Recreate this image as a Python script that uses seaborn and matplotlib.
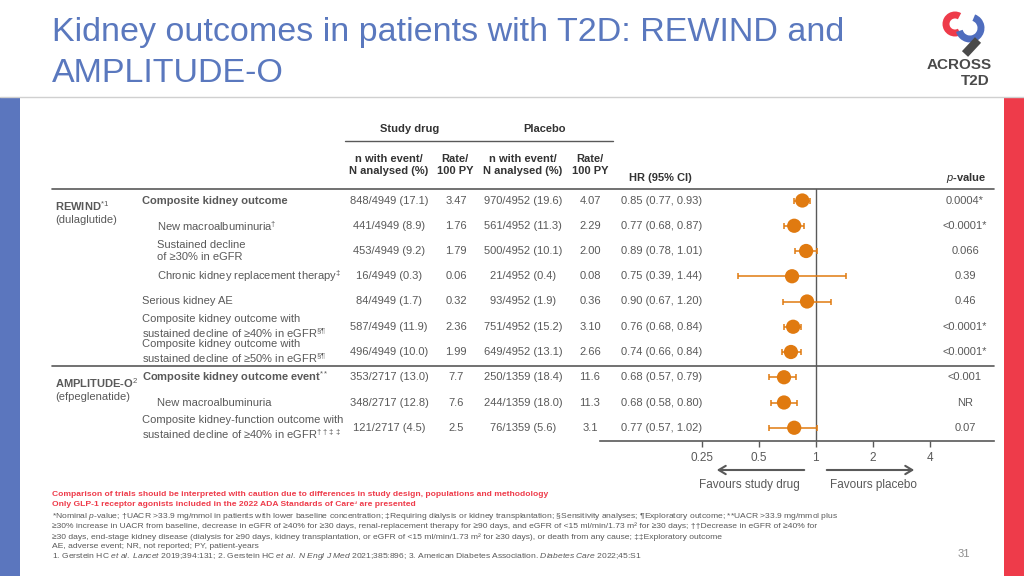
import numpy as np
import pandas as pd
import seaborn as sns
import matplotlib.pyplot as plt
from matplotlib.patches import Rectangle, Arc, FancyArrowPatch
from matplotlib.lines import Line2D

# ---- data ----
outcomes = [
    "Composite kidney outcome",
    "New macroalbuminuria$^{\\dagger}$",
    "Sustained decline\nof ≥30% in eGFR",
    "Chronic kidney replacement therapy$^{\\ddagger}$",
    "Serious kidney AE",
    "Composite kidney outcome with\nsustained decline of ≥40% in eGFR$^{\\S\\P}$",
    "Composite kidney outcome with\nsustained decline of ≥50% in eGFR$^{\\S\\P}$",
    "Composite kidney outcome event$^{**}$",
    "New macroalbuminuria",
    "Composite kidney-function outcome with\nsustained decline of ≥40% in eGFR$^{\\dagger\\dagger\\ddagger\\ddagger}$",
]
study_n = ["848/4949 (17.1)", "441/4949 (8.9)", "453/4949 (9.2)", "16/4949 (0.3)",
           "84/4949 (1.7)", "587/4949 (11.9)", "496/4949 (10.0)",
           "353/2717 (13.0)", "348/2717 (12.8)", "121/2717 (4.5)"]
study_rate = ["3.47", "1.76", "1.79", "0.06", "0.32", "2.36", "1.99", "7.7", "7.6", "2.5"]
placebo_n = ["970/4952 (19.6)", "561/4952 (11.3)", "500/4952 (10.1)", "21/4952 (0.4)",
             "93/4952 (1.9)", "751/4952 (15.2)", "649/4952 (13.1)",
             "250/1359 (18.4)", "244/1359 (18.0)", "76/1359 (5.6)"]
placebo_rate = ["4.07", "2.29", "2.00", "0.08", "0.36", "3.10", "2.66", "11.6", "11.3", "3.1"]
hr = [0.85, 0.77, 0.89, 0.75, 0.90, 0.76, 0.74, 0.68, 0.68, 0.77]
hr_lo = [0.77, 0.68, 0.78, 0.39, 0.67, 0.68, 0.66, 0.57, 0.58, 0.57]
hr_hi = [0.93, 0.87, 1.01, 1.44, 1.20, 0.84, 0.84, 0.79, 0.80, 1.02]
p_values = ["0.0004*", "<0.0001*", "0.066", "0.39", "0.46", "<0.0001*", "<0.0001*",
            "<0.001", "NR", "0.07"]
trials = ["REWIND$^{*1}$", "AMPLITUDE-O$^{2}$"]
drugs = ["(dulaglutide)", "(efpeglenatide)"]
x_ticks = [0.25, 0.5, 1, 2, 4]

# layout / style per row (not data)
bold_rows = {0, 7}
indent_rows = {1, 2, 3, 8}

GRAY = "#595959"
BLUE = "#5A78BE"
RED = "#EE3B4A"
ORANGE = "#E07A10"

sns.set_theme(style="white")
plt.rcParams["font.family"] = ["Liberation Sans", "DejaVu Sans"]
plt.rcParams["mathtext.fontset"] = "custom"
plt.rcParams["mathtext.rm"] = "Liberation Sans"
plt.rcParams["mathtext.it"] = "Liberation Sans:italic"
plt.rcParams["mathtext.bf"] = "Liberation Sans:bold"

df = pd.DataFrame({"row": np.arange(len(hr)), "hr": hr, "lo": hr_lo, "hi": hr_hi})

fig = plt.figure(figsize=(10.24, 5.76), dpi=100)

# background canvas in pixel coordinates
bg = fig.add_axes([0, 0, 1, 1])
bg.set_xlim(0, 1024)
bg.set_ylim(576, 0)
bg.axis("off")

# slide decoration
bg.add_line(Line2D([0, 1024], [96.5, 96.5], color="#D0D0D0", lw=1))
bg.add_patch(Rectangle((0, 97), 20, 479, color="#5B76BE", lw=0))
bg.add_patch(Rectangle((1004, 97), 20, 479, color=RED, lw=0))
bg.text(52, 41, "Kidney outcomes in patients with T2D: REWIND and", fontsize=24.5,
        color=BLUE, va="baseline")
bg.text(52, 82, "AMPLITUDE-O", fontsize=24.5, color=BLUE, va="baseline")

# logo
bg.add_patch(Arc((955, 24), 18, 18, theta1=60, theta2=300, color=RED, lw=5))
bg.add_patch(Arc((970, 28), 22, 22, theta1=-70, theta2=165, color="#4F6DBE", lw=5))
bg.add_line(Line2D([978, 965], [40, 54], color="#4A4A4A", lw=6, solid_capstyle="butt"))
bg.text(959, 65, "ACROSS", fontsize=11, fontweight="bold", color="#4A4A4A",
        ha="center", va="center")
bg.text(990, 81, "T2D", fontsize=11, fontweight="bold", color="#4A4A4A",
        ha="right", va="center")

# table header
fs = 8
bg.text(410, 129, "Study drug", fontsize=fs, fontweight="bold", color="#333333",
        ha="center", va="center")
bg.text(545, 129, "Placebo", fontsize=fs, fontweight="bold", color="#333333",
        ha="center", va="center")
bg.add_line(Line2D([345, 613], [141, 141], color=GRAY, lw=1))
col_x = [389, 455, 523, 590]
for x, h in zip(col_x, ["n with event/\nN analysed (%)", "Rate/\n100 PY",
                        "n with event/\nN analysed (%)", "Rate/\n100 PY"]):
    bg.text(x, 165, h, fontsize=fs, fontweight="bold", color="#333333",
            ha="center", va="center", linespacing=1.15)
bg.text(629, 178, "HR (95% CI)", fontsize=fs, fontweight="bold", color="#333333",
        va="center")
bg.text(986, 178, "$\\mathit{p}$-value", fontsize=fs, fontweight="bold",
        color="#333333", va="center", ha="right")

# separator lines
bg.add_line(Line2D([52, 994], [189, 189], color=GRAY, lw=1.2))
bg.add_line(Line2D([52, 994], [365.5, 365.5], color=GRAY, lw=1.2))

# rows
row_y0, row_dy = 200.5, 25.25
for i in range(len(hr)):
    y = row_y0 + row_dy * i
    lx = 157 if i in indent_rows else 142
    bg.text(lx, y, outcomes[i], fontsize=fs, color=GRAY, va="center",
            fontweight="bold" if i in bold_rows else "normal", linespacing=1.15)
    bg.text(col_x[0], y, study_n[i], fontsize=fs, color=GRAY, ha="center", va="center")
    bg.text(col_x[1] + 1, y, study_rate[i], fontsize=fs, color=GRAY, ha="center", va="center")
    bg.text(col_x[2], y, placebo_n[i], fontsize=fs, color=GRAY, ha="center", va="center")
    bg.text(col_x[3], y, placebo_rate[i], fontsize=fs, color=GRAY, ha="center", va="center")
    bg.text(621, y, f"{hr[i]:.2f} ({hr_lo[i]:.2f}, {hr_hi[i]:.2f})", fontsize=fs,
            color=GRAY, va="center")
    bg.text(965, y, p_values[i], fontsize=fs, color=GRAY, ha="center", va="center")

for y, name, drug in zip([206.5, 383], trials, drugs):
    bg.text(55, y, name, fontsize=fs, fontweight="bold", color=GRAY, va="center")
    bg.text(55, y + 13.5, drug, fontsize=fs, color=GRAY, va="center")

# forest plot axes: x 600..994 px, y 189..441 px
left, right, top, bottom = 600, 994, 189, 441
ax = fig.add_axes([left / 1024, 1 - bottom / 576, (right - left) / 1024, (bottom - top) / 576])
ax.patch.set_alpha(0)
ax.set_xscale("log", base=2)
px_per_oct = 57.0
ax.set_xlim(2 ** (-(815.7 - left) / px_per_oct), 2 ** ((right - 815.7) / px_per_oct))
ax.set_ylim((bottom - row_y0) / row_dy, (top - row_y0) / row_dy)
ax.axvline(1, color=GRAY, lw=1)
ax.errorbar(df["hr"], df["row"], xerr=[df["hr"] - df["lo"], df["hi"] - df["hr"]],
            fmt="none", ecolor=ORANGE, elinewidth=1.1, capsize=2.5, capthick=1.1)
sns.scatterplot(data=df, x="hr", y="row", ax=ax, color=ORANGE, s=105,
                edgecolor="none", zorder=3, legend=False)
ax.set_xticks(x_ticks)
ax.set_xticklabels([f"{t:g}" for t in x_ticks])
ax.minorticks_off()
ax.set_yticks([])
ax.set_xlabel("")
ax.set_ylabel("")
for s in ["top", "left", "right"]:
    ax.spines[s].set_visible(False)
ax.spines["bottom"].set_color(GRAY)
ax.spines["bottom"].set_linewidth(1.2)
ax.tick_params(axis="x", colors=GRAY, labelsize=8.5, length=4, width=1, pad=4,
               bottom=True)

# favours arrows
bg.add_patch(FancyArrowPatch((807, 470), (714, 470), arrowstyle="->,head_length=5,head_width=3",
                             color=GRAY, lw=1.5))
bg.add_patch(FancyArrowPatch((824, 470), (917, 470), arrowstyle="->,head_length=5,head_width=3",
                             color=GRAY, lw=1.5))
bg.text(749, 485, "Favours study drug", fontsize=8.5, color=GRAY, ha="center", va="center")
bg.text(873, 485, "Favours placebo", fontsize=8.5, color=GRAY, ha="center", va="center")

# footnotes
ffs = 6.1
bg.text(52, 495, "Comparison of trials should be interpreted with caution due to differences in "
        "study design, populations and methodology", fontsize=ffs, fontweight="bold",
        color=RED, va="center")
bg.text(52, 505, "Only GLP-1 receptor agonists included in the 2022 ADA Standards of Care³ "
        "are presented", fontsize=ffs, fontweight="bold", color=RED, va="center")
notes = [
    "*Nominal $\\mathit{p}$-value; †UACR >33.9 mg/mmol in patients with lower "
    "baseline concentration; ‡Requiring dialysis or kidney transplantation; "
    "§Sensitivity analyses; ¶Exploratory outcome; **UACR >33.9 mg/mmol plus",
    "≥30% increase in UACR from baseline, decrease in eGFR of ≥40% for ≥30 days, "
    "renal-replacement therapy for ≥90 days, and eGFR of <15 ml/min/1.73 m² for ≥30 days; "
    "††Decrease in eGFR of ≥40% for",
    "≥30 days, end-stage kidney disease (dialysis for ≥90 days, kidney transplantation, or eGFR "
    "of <15 ml/min/1.73 m² for ≥30 days), or death from any cause; "
    "‡‡Exploratory outcome",
    "AE, adverse event; NR, not reported; PY, patient-years",
    "1. Gerstein HC $\\mathit{et\\ al.\\ Lancet}$ 2019;394:131; 2. Gerstein HC "
    "$\\mathit{et\\ al.\\ N\\ Engl\\ J\\ Med}$ 2021;385:896; 3. American Diabetes Association. "
    "$\\mathit{Diabetes\\ Care}$ 2022;45:S1",
]
for y, line in zip([516, 526.3, 536.7, 547, 556.7], notes):
    bg.text(52, y, line, fontsize=ffs, color=GRAY, va="center")

bg.text(964, 554, "31", fontsize=8, color="#8C8C8C", ha="center", va="center")

fig.savefig("out.png", dpi=100)
